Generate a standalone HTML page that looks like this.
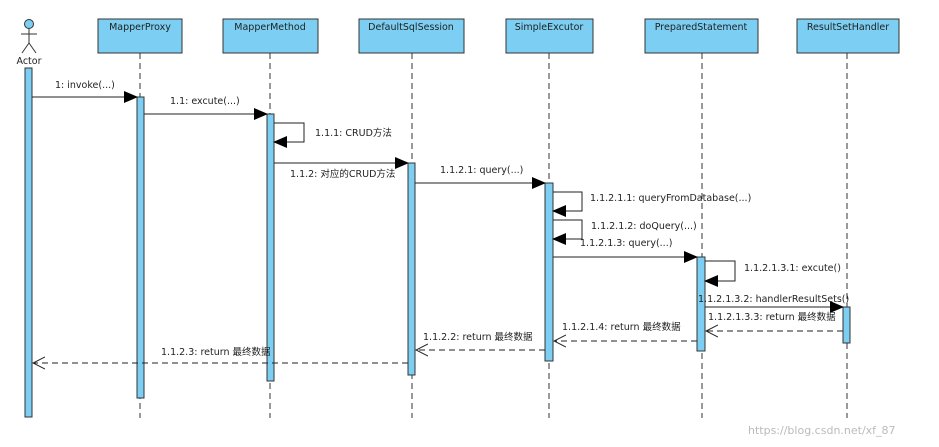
<!DOCTYPE html>
<html><head><meta charset="utf-8"><style>
html,body{margin:0;padding:0;background:#fff;width:939px;height:447px;overflow:hidden}
svg text{font-family:"DejaVu Sans","Noto Sans CJK SC",sans-serif;font-size:9.5px;fill:#222}
</style></head><body>
<svg width="939" height="447" viewBox="0 0 939 447" xmlns="http://www.w3.org/2000/svg">
<defs>
<marker id="f" markerWidth="14" markerHeight="12" refX="13" refY="6" orient="auto" markerUnits="userSpaceOnUse"><path d="M0,0 L14,6 L0,12 Z" fill="#000"/></marker>
<marker id="o" markerWidth="13" markerHeight="14" refX="12" refY="7" orient="auto" markerUnits="userSpaceOnUse"><path d="M0,1 L12,7 L0,13" fill="none" stroke="#222" stroke-width="1"/></marker>
</defs>
<g stroke="#333" stroke-width="1" stroke-dasharray="6,4" fill="none">
<line x1="140" y1="53" x2="140" y2="418"/><line x1="270" y1="53" x2="270" y2="418"/><line x1="412" y1="53" x2="412" y2="418"/>
<line x1="549" y1="53" x2="549" y2="418"/><line x1="702" y1="53" x2="702" y2="418"/><line x1="847" y1="53" x2="847" y2="418"/>
</g>
<g fill="#7ccff2" stroke="#333" stroke-width="1">
<rect x="98" y="19" width="84" height="34"/><rect x="223" y="19" width="95" height="34"/><rect x="359" y="19" width="105" height="34"/>
<rect x="506" y="19" width="87" height="34"/><rect x="645" y="19" width="113" height="34"/><rect x="797" y="19" width="102" height="34"/>
</g>
<g text-anchor="middle">
<text x="140" y="30">MapperProxy</text><text x="270" y="30">MapperMethod</text><text x="411" y="30">DefaultSqlSession</text>
<text x="549" y="30">SimpleExcutor</text><text x="701" y="30">PreparedStatement</text><text x="848" y="30">ResultSetHandler</text>
<text x="29" y="64">Actor</text>
</g>
<g stroke="#333" stroke-width="1" fill="none">
<circle cx="29" cy="24" r="4.5" fill="#7ccff2"/><line x1="29" y1="28.5" x2="29" y2="43"/><line x1="21" y1="34" x2="37" y2="34"/>
<line x1="29" y1="43" x2="22" y2="53"/><line x1="29" y1="43" x2="36" y2="53"/>
</g>
<g fill="#7ccff2" stroke="#333" stroke-width="1">
<rect x="25" y="68" width="7" height="349"/><rect x="137" y="97" width="7" height="301"/><rect x="267" y="114" width="7" height="267"/>
<rect x="408" y="163" width="7" height="212"/><rect x="545" y="183" width="8" height="178"/><rect x="697" y="257" width="8" height="94"/>
<rect x="843" y="307" width="7" height="36"/>
</g>
<g stroke="#222" stroke-width="1" fill="none">
<line x1="32" y1="97" x2="137" y2="97" marker-end="url(#f)"/>
<line x1="144" y1="114" x2="267" y2="114" marker-end="url(#f)"/>
<polyline points="274,123 304,123 304,142 274,142" marker-end="url(#f)"/>
<line x1="274" y1="163" x2="408" y2="163" marker-end="url(#f)"/>
<line x1="415" y1="183" x2="545" y2="183" marker-end="url(#f)"/>
<polyline points="553,192 582,192 582,211 553,211" marker-end="url(#f)"/>
<polyline points="553,220 582,220 582,239 553,239" marker-end="url(#f)"/>
<line x1="553" y1="257" x2="697" y2="257" marker-end="url(#f)"/>
<polyline points="705,261 735,261 735,281 705,281" marker-end="url(#f)"/>
<line x1="705" y1="307" x2="843" y2="307" marker-end="url(#f)"/>
<g stroke-dasharray="6,4">
<line x1="843" y1="331" x2="706" y2="331" marker-end="url(#o)" />
<line x1="697" y1="341" x2="554" y2="341" marker-end="url(#o)"/>
<line x1="545" y1="350" x2="416" y2="350" marker-end="url(#o)"/>
<line x1="408" y1="363" x2="33" y2="363" marker-end="url(#o)"/>
</g>
</g>
<text x="55" y="88">1: invoke(...)</text>
<text x="170" y="104">1.1: excute(...)</text>
<text x="315" y="136">1.1.1: CRUD方法</text>
<text x="290" y="177">1.1.2: 对应的CRUD方法</text>
<text x="440" y="173">1.1.2.1: query(...)</text>
<text x="590" y="201">1.1.2.1.1: queryFromDatabase(...)</text>
<text x="591" y="229">1.1.2.1.2: doQuery(...)</text>
<text x="580" y="246">1.1.2.1.3: query(...)</text>
<text x="744" y="271">1.1.2.1.3.1: excute()</text>
<text x="698" y="302">1.1.2.1.3.2: handlerResultSets()</text>
<text x="708" y="320">1.1.2.1.3.3: return 最终数据</text>
<text x="562" y="330">1.1.2.1.4: return 最终数据</text>
<text x="423" y="340">1.1.2.2: return 最终数据</text>
<text x="161" y="355">1.1.2.3: return 最终数据</text>
<text x="748" y="434" style="fill:#bbb;font-size:11px">https://blog.csdn.net/xf_87</text>
</svg>
</body></html>
